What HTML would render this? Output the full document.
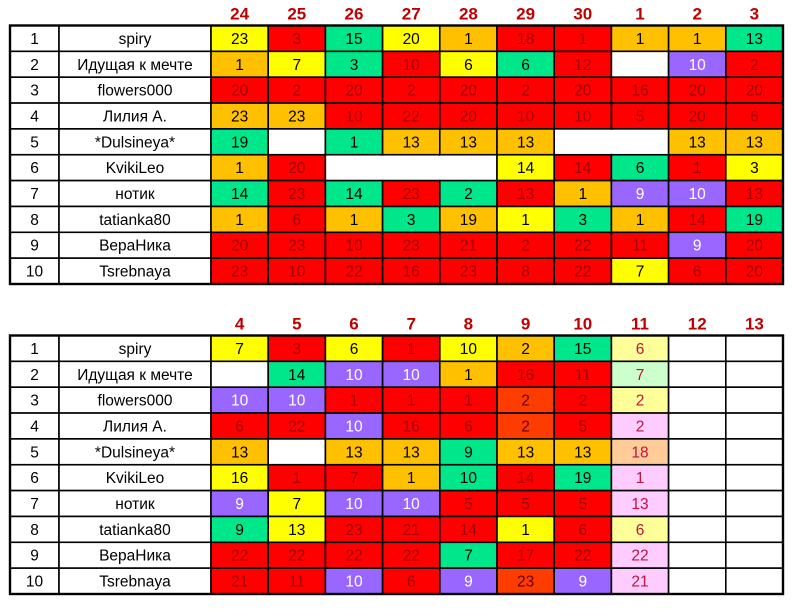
<!DOCTYPE html>
<html><head><meta charset="utf-8">
<style>
html,body{margin:0;padding:0;background:#fff;}
svg{display:block;}
text{font-family:"Liberation Sans","DejaVu Sans",sans-serif;}
</style></head>
<body>
<svg id="chart" width="800" height="610" viewBox="0 0 800 610" xmlns="http://www.w3.org/2000/svg"></svg>
<script>
const names = ["spiry","Идущая к мечте","flowers000","Лилия А.","*Dulsineya*","KvikiLeo","нотик","tatianka80","ВераНика","Tsrebnaya"];
const topDays = ["24","25","26","27","28","29","30","1","2","3"];
const bottomDays = ["4","5","6","7","8","9","10","11","12","13"];
const topValues = [
 ["23","3","15","20","1","18","1","1","1","13"],
 ["1","7","3","10","6","6","12","","10","2"],
 ["20","2","20","2","20","2","20","16","20","20"],
 ["23","23","10","22","20","10","10","5","20","6"],
 ["19","","1","13","13","13","","","13","13"],
 ["1","20","","","","14","14","6","1","3"],
 ["14","23","14","23","2","13","1","9","10","13"],
 ["1","6","1","3","19","1","3","1","14","19"],
 ["20","23","10","23","21","2","22","11","9","20"],
 ["23","10","22","16","23","8","22","7","6","20"]
];
const topColors = [
 ["Y","R","G","Y","O","R","R","O","O","G"],
 ["O","Y","G","R","Y","G","R","W","P","R"],
 ["R","R","R","R","R","R","R","R","R","R"],
 ["O","O","R","R","R","R","R","R","R","R"],
 ["G","W","G","O","O","O","W","W","O","O"],
 ["O","R","W","W","W","Y","R","G","R","Y"],
 ["G","R","G","R","G","R","O","P","P","R"],
 ["O","R","O","G","O","Y","G","O","R","G"],
 ["R","R","R","R","R","R","R","R","P","R"],
 ["R","R","R","R","R","R","R","Y","R","R"]
];
const bottomValues = [
 ["7","3","6","1","10","2","15","6","",""],
 ["","14","10","10","1","16","11","7","",""],
 ["10","10","1","1","1","2","2","2","",""],
 ["6","22","10","16","6","2","5","2","",""],
 ["13","","13","13","9","13","13","18","",""],
 ["16","1","7","1","10","14","19","1","",""],
 ["9","7","10","10","5","5","5","13","",""],
 ["9","13","23","21","14","1","6","6","",""],
 ["22","22","22","22","7","17","22","22","",""],
 ["21","11","10","6","9","23","9","21","",""]
];
const bottomColors = [
 ["Y","R","Y","R","Y","O","G","LY","W","W"],
 ["W","G","P","P","O","R","R","LG","W","W"],
 ["P","P","R","R","R","Q","R","LY","W","W"],
 ["R","R","P","R","R","Q","R","PK","W","W"],
 ["O","W","O","O","G","O","O","PE","W","W"],
 ["Y","R","R","O","G","R","G","PK","W","W"],
 ["P","Y","P","P","R","R","R","PK","W","W"],
 ["G","Y","R","R","R","Y","R","LY","W","W"],
 ["R","R","R","R","G","R","R","PK","W","W"],
 ["R","R","P","R","P","Q","P","PK","W","W"]
];
// merged blank spans: [row, startCol, endCol]
const topMerges = [[4,6,7],[5,2,4]];

const fills = {Y:"#ffff00",R:"#fe0000",G:"#00e68a",O:"#ffc000",P:"#9966ff",W:"#ffffff",Q:"#ff3c00",LY:"#ffff99",LG:"#ccffcc",PK:"#ffccff",PE:"#ffcc99"};
const inks = {Y:"#000",R:"#a00000",G:"#000",O:"#000",P:"#fff",W:"#000",Q:"#600000",LY:"#c0143c",LG:"#c0143c",PK:"#c0143c",PE:"#c0143c"};

const svg = document.getElementById('chart');
const NS = "http://www.w3.org/2000/svg";
const X0 = 10, XI = 59, XN = 211, CW = 57.2, RH = 25.85;
function colX(c){ return XN + c*CW; }
function mk(tag, attrs){ const e=document.createElementNS(NS,tag); for(const k in attrs) e.setAttribute(k,attrs[k]); svg.appendChild(e); return e; }

function drawTable(id, top, days, values, colors, merges){
  const hy = top - 12;
  days.forEach((d,c)=>{
    const t = mk('text',{x:colX(c)+CW/2,y:hy+6,'text-anchor':'middle','font-size':'17','font-weight':'bold',fill:'#c00000'});
    t.textContent = d;
    
    
  });
  for(let r=0;r<names.length;r++){
    const y = top + r*RH;
    const ri = mk('rect',{x:X0,y:y,width:XI-X0,height:RH,fill:'#fff',stroke:'#000','stroke-width':'1.6'});
    
    
    const ti = mk('text',{x:(X0+XI)/2,y:y+RH/2+5.5,'text-anchor':'middle','font-size':'15.5',fill:'#000'});
    ti.textContent = String(r+1);
    
    
    const rn = mk('rect',{x:XI,y:y,width:XN-XI,height:RH,fill:'#fff',stroke:'#000','stroke-width':'1.6'});
    
    
    const tn = mk('text',{x:(XI+XN)/2,y:y+RH/2+5.5,'text-anchor':'middle','font-size':'15.5',fill:'#000'});
    tn.textContent = names[r];
    
    
    for(let c=0;c<days.length;c++){
      const k = colors[r][c];
      const cell = mk('rect',{x:colX(c),y:y,width:CW,height:RH,fill:fills[k],stroke:'#000','stroke-width':'1.6'});
      
      
      if(values[r][c]!==""){
        const t = mk('text',{x:colX(c)+CW/2,y:y+RH/2+5.5,'text-anchor':'middle','font-size':'15.5',fill:inks[k]});
        t.textContent = values[r][c];
        
        
      }
    }
  }
  merges.forEach(m=>{
    const y = top + m[0]*RH;
    const x1 = colX(m[1]), x2 = colX(m[2]+1);
    const w = mk('rect',{x:x1+1,y:y+1,width:x2-x1-2,height:RH-2,fill:'#fff'});
    
    
  });
  const o = mk('rect',{x:X0,y:top,width:colX(days.length)-X0,height:RH*names.length,fill:'none',stroke:'#000','stroke-width':'2.4'});
  
  
}
drawTable('top-table', 25.5, topDays, topValues, topColors, topMerges);
drawTable('bottom-table', 335.5, bottomDays, bottomValues, bottomColors, []);
</script>
</body></html>
